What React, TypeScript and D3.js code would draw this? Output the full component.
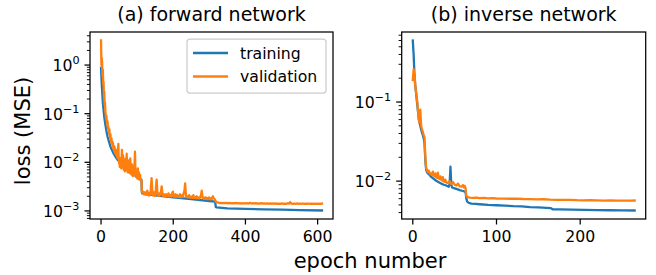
import React from "react";
import * as d3 from "d3";

type Pt = [number, number];

// ---------- (a) forward network ----------
const fwdTrain: Pt[] = [
  [0, 0.88], [1, 0.6], [2, 0.4], [3, 0.3], [4, 0.22], [5, 0.17], [6, 0.14], [7, 0.12], [8, 0.1], [9, 0.085],
  [10, 0.075], [12, 0.06], [14, 0.048], [16, 0.04], [18, 0.034], [20, 0.03], [23, 0.025], [26, 0.021], [30, 0.018],
  [35, 0.015], [40, 0.013], [45, 0.0115], [50, 0.0105], [55, 0.0095], [60, 0.0088], [65, 0.0082], [70, 0.0076],
  [75, 0.007], [80, 0.0066], [85, 0.0061], [90, 0.0057], [95, 0.0053], [100, 0.005], [105, 0.0047], [110, 0.0045],
  [112, 0.0044], [113, 0.0024], [114, 0.0023], [120, 0.00225], [150, 0.0021], [200, 0.0019], [250, 0.00175],
  [300, 0.0016], [316, 0.00155], [318, 0.0012], [320, 0.00118], [350, 0.00113], [400, 0.0011], [450, 0.00108],
  [500, 0.00106], [550, 0.00104], [612, 0.00102],
];

const fwdVal: Pt[] = [
  [0, 3.2], [1, 1.0], [2, 1.4], [3, 1.1], [4, 0.6], [5, 0.8], [6, 0.4], [7, 0.45], [8, 0.22], [9, 0.28],
  [10, 0.15], [11, 0.17], [12, 0.11], [13, 0.095], [14, 0.08], [15, 0.09], [16, 0.065], [17, 0.058], [18, 0.07],
  [19, 0.05], [20, 0.055], [21, 0.044], [22, 0.04], [23, 0.048], [24, 0.036], [25, 0.032], [26, 0.038], [27, 0.029],
  [28, 0.026], [29, 0.031], [30, 0.024], [31, 0.027], [32, 0.021], [33, 0.025], [34, 0.019], [35, 0.022], [36, 0.018],
  [37, 0.021], [38, 0.016], [39, 0.019], [40, 0.015], [41, 0.018], [42, 0.014], [43, 0.016], [44, 0.013], [45, 0.015],
  [46, 0.012], [47, 0.018], [48, 0.024], [49, 0.012], [50, 0.0095], [51, 0.011], [52, 0.008], [53, 0.012], [54, 0.0085],
  [55, 0.01], [56, 0.0075], [57, 0.013], [58, 0.018], [59, 0.01], [60, 0.008], [61, 0.014], [62, 0.009], [63, 0.007],
  [64, 0.011], [65, 0.008], [66, 0.0065], [67, 0.009], [68, 0.012], [69, 0.0075], [70, 0.0068], [71, 0.015],
  [72, 0.01], [73, 0.007], [74, 0.0062], [75, 0.009], [76, 0.0068], [77, 0.011], [78, 0.0065], [79, 0.006],
  [80, 0.0085], [81, 0.012], [82, 0.007], [83, 0.0058], [84, 0.0075], [85, 0.0055], [86, 0.009], [87, 0.0065],
  [88, 0.0052], [89, 0.007], [90, 0.0058], [91, 0.008], [92, 0.0055], [93, 0.0095], [94, 0.0165], [95, 0.008],
  [96, 0.0055], [97, 0.005], [98, 0.0068], [99, 0.0048], [100, 0.006], [101, 0.0046], [102, 0.0075], [103, 0.0052],
  [104, 0.0045], [105, 0.0062], [106, 0.0047], [107, 0.0044], [108, 0.0055], [109, 0.0046], [110, 0.0044],
  [111, 0.0043], [112, 0.0042], [113, 0.0026], [114, 0.0025], [115, 0.0023], [116, 0.0025], [117, 0.0023],
  [118, 0.0024], [119, 0.0022], [120, 0.0024], [121, 0.0022], [122, 0.0024], [123, 0.00225], [124, 0.0023],
  [125, 0.00215], [126, 0.0023], [127, 0.0022], [128, 0.0026], [129, 0.0023], [130, 0.0024], [131, 0.0021],
  [132, 0.0023], [133, 0.0022], [134, 0.00235], [135, 0.0021], [136, 0.0023], [137, 0.0022], [138, 0.0029],
  [140, 0.0047], [142, 0.0026], [143, 0.0021], [144, 0.0023], [145, 0.0021], [146, 0.0024], [147, 0.0021],
  [148, 0.0022], [149, 0.00205], [150, 0.0023], [152, 0.0028], [154, 0.0044], [156, 0.0025], [157, 0.0021],
  [158, 0.0023], [159, 0.00205], [160, 0.0022], [161, 0.00205], [162, 0.0023], [163, 0.0021], [164, 0.0022],
  [166, 0.0025], [168, 0.0032], [170, 0.0023], [171, 0.00205], [172, 0.0022], [174, 0.002], [175, 0.0022],
  [177, 0.00205], [178, 0.0021], [180, 0.002], [181, 0.0022], [183, 0.00205], [184, 0.0021], [186, 0.002],
  [187, 0.0023], [189, 0.002], [190, 0.00215], [192, 0.002], [193, 0.0021], [195, 0.00198], [196, 0.0022],
  [199, 0.0025], [201, 0.0021], [202, 0.00198], [204, 0.0021], [206, 0.00196], [207, 0.0022], [209, 0.00198],
  [210, 0.0021], [212, 0.00195], [213, 0.0021], [215, 0.00196], [216, 0.002], [218, 0.00194], [219, 0.0022],
  [221, 0.00193], [222, 0.002], [224, 0.00194], [225, 0.0021], [227, 0.00195], [228, 0.0022], [231, 0.0026],
  [233, 0.0037], [235, 0.0022], [236, 0.00193], [238, 0.002], [240, 0.0019], [241, 0.00198], [243, 0.0019],
  [244, 0.0021], [246, 0.00188], [247, 0.00198], [249, 0.00188], [250, 0.0019], [252, 0.00186], [253, 0.002],
  [255, 0.00186], [256, 0.0021], [258, 0.00185], [259, 0.0019], [261, 0.00184], [262, 0.00192], [264, 0.00183],
  [265, 0.002], [267, 0.00183], [268, 0.0019], [270, 0.00182], [271, 0.00188], [273, 0.00181], [274, 0.0019],
  [277, 0.0021], [279, 0.0026], [281, 0.0019], [283, 0.0018], [284, 0.00188], [286, 0.00178], [287, 0.00185],
  [289, 0.00178], [290, 0.0019], [292, 0.00177], [293, 0.00184], [295, 0.00176], [296, 0.00183], [298, 0.00176],
  [299, 0.0019], [301, 0.00175], [302, 0.00182], [304, 0.00174], [305, 0.00182], [307, 0.00176], [308, 0.0019],
  [310, 0.002], [312, 0.00182], [315, 0.00175], [317, 0.0016], [319, 0.00152], [322, 0.0015], [325, 0.00148],
  [329, 0.00145], [333, 0.00147], [337, 0.00144], [341, 0.00147], [345, 0.00144], [349, 0.00146], [353, 0.00143],
  [357, 0.00146], [361, 0.00143], [365, 0.00145], [369, 0.00143], [373, 0.00146], [377, 0.00143], [381, 0.00145],
  [385, 0.00142], [389, 0.00144], [393, 0.00142], [397, 0.00145], [401, 0.00142], [405, 0.00144], [409, 0.00142],
  [413, 0.00146], [417, 0.00142], [421, 0.00144], [425, 0.00141], [429, 0.00144], [433, 0.00141], [437, 0.00143],
  [441, 0.00141], [445, 0.00145], [449, 0.00141], [453, 0.00143], [457, 0.00141], [461, 0.00143], [465, 0.0014],
  [469, 0.00144], [473, 0.0014], [477, 0.00143], [481, 0.0014], [485, 0.00143], [489, 0.0014], [493, 0.00142],
  [497, 0.0014], [501, 0.00143], [505, 0.0014], [509, 0.00142], [513, 0.0014], [517, 0.00144], [521, 0.00141],
  [524, 0.00152], [527, 0.00142], [531, 0.0014], [535, 0.00142], [539, 0.00139], [543, 0.00143], [547, 0.00139],
  [551, 0.00142], [555, 0.00139], [559, 0.00142], [563, 0.00139], [567, 0.00141], [571, 0.00139], [575, 0.00142],
  [579, 0.00139], [583, 0.00141], [587, 0.00139], [591, 0.00141], [595, 0.00139], [599, 0.00141], [603, 0.00139],
  [606, 0.00141], [609, 0.00139], [612, 0.00142],
];

// ---------- (b) inverse network ----------
const invTrain: Pt[] = [
  [0, 0.6], [1, 0.4], [2, 0.22], [3, 0.16], [4, 0.13], [5, 0.1], [6, 0.08], [7, 0.065], [8, 0.055], [9, 0.05],
  [10, 0.045], [11, 0.041], [12, 0.038], [13, 0.035], [14, 0.03], [15, 0.018], [16, 0.014], [17, 0.013],
  [18, 0.0125], [20, 0.012], [22, 0.0113], [25, 0.0107], [28, 0.0101], [31, 0.0097], [34, 0.0093], [37, 0.009],
  [40, 0.0088], [43, 0.0085], [44, 0.0092], [45, 0.0152], [46, 0.009], [47, 0.0083], [50, 0.0081], [53, 0.0079],
  [56, 0.0077], [60, 0.0075], [63, 0.0073], [64, 0.006], [65, 0.0055], [67, 0.0053], [70, 0.0052], [75, 0.00515],
  [80, 0.0051], [90, 0.005], [100, 0.00495], [110, 0.0049], [120, 0.00482], [130, 0.00478], [140, 0.0047],
  [150, 0.00465], [160, 0.0046], [165, 0.00455], [167, 0.0044], [175, 0.00438], [190, 0.00435], [205, 0.00432],
  [220, 0.0043], [235, 0.00428], [250, 0.00427], [265, 0.00425],
];

const invVal: Pt[] = [
  [0, 0.19], [1, 0.26], [2, 0.22], [3, 0.16], [4, 0.13], [5, 0.11], [6, 0.085], [7, 0.06], [8, 0.055], [9, 0.08],
  [10, 0.05], [11, 0.045], [12, 0.042], [13, 0.038], [14, 0.036], [15, 0.02], [16, 0.0145], [17, 0.014],
  [18, 0.013], [19, 0.0135], [20, 0.0128], [21, 0.0122], [22, 0.0125], [23, 0.012], [24, 0.0132], [25, 0.0118],
  [26, 0.0115], [27, 0.0125], [28, 0.0112], [29, 0.011], [30, 0.0128], [31, 0.0108], [32, 0.0106], [33, 0.0115],
  [34, 0.0104], [35, 0.0102], [36, 0.0112], [37, 0.0099], [38, 0.0098], [39, 0.0104], [40, 0.0096], [42, 0.0095],
  [44, 0.01], [45, 0.0093], [46, 0.0092], [48, 0.0097], [50, 0.009], [52, 0.0088], [54, 0.0093], [56, 0.0086],
  [58, 0.0085], [60, 0.0089], [61, 0.0083], [62, 0.0087], [63, 0.0082], [64, 0.0065], [65, 0.0063], [68, 0.0062],
  [72, 0.00615], [76, 0.0062], [80, 0.0061], [85, 0.00612], [90, 0.00605], [95, 0.0061], [100, 0.00603],
  [108, 0.006], [116, 0.00598], [124, 0.006], [132, 0.00594], [140, 0.00592], [148, 0.00588], [156, 0.0059],
  [164, 0.00582], [172, 0.0058], [180, 0.00578], [188, 0.0058], [196, 0.00574], [204, 0.00572], [212, 0.00574],
  [220, 0.0057], [228, 0.00568], [236, 0.0057], [244, 0.00566], [252, 0.00568], [260, 0.00565], [265, 0.00568],
];

const fwdXTicks = [0, 200, 400, 600];
const invXTicks = [0, 100, 200];
const titles = ["(a) forward network", "(b) inverse network"];
const seriesLabels = ["training", "validation"];
const colors = ["#1f77b4", "#ff7f0e"];
const xLabel = "epoch number";
const yLabel = "loss (MSE)";

const FONT = "'DejaVu Sans', sans-serif";
const TICK_FS = 15.7;

function padLinear(vals: number[]): [number, number] {
  const [a, b] = d3.extent(vals) as [number, number];
  const p = (b - a) * 0.05;
  return [a - p, b + p];
}
function padLog(vals: number[]): [number, number] {
  const [a, b] = d3.extent(vals.map((v) => Math.log10(v))) as [number, number];
  const p = (b - a) * 0.05;
  return [Math.pow(10, a - p), Math.pow(10, b + p)];
}

function supText(v: number) {
  const e = Math.round(Math.log10(v));
  return e < 0 ? "\u2212" + Math.abs(e) : String(e);
}

interface PanelProps {
  x0: number;
  x1: number;
  y0: number;
  y1: number;
  train: Pt[];
  val: Pt[];
  xTicks: number[];
  title: string;
  legend: boolean;
  id: string;
}

function Panel({ x0, x1, y0, y1, train, val, xTicks, title, legend, id }: PanelProps) {
  const all = [...train, ...val];
  const x = d3.scaleLinear().domain(padLinear(all.map((d) => d[0]))).range([x0, x1]);
  const y = d3.scaleLog().domain(padLog(all.map((d) => d[1]))).range([y1, y0]);
  const line = d3
    .line<Pt>()
    .x((d) => x(d[0]))
    .y((d) => y(d[1]));

  const [dmin, dmax] = y.domain();
  const majors: number[] = [];
  const minors: number[] = [];
  for (let e = Math.floor(Math.log10(dmin)); e <= Math.ceil(Math.log10(dmax)); e++) {
    const base = Math.pow(10, e);
    if (base >= dmin && base <= dmax) majors.push(base);
    for (let m = 2; m <= 9; m++) {
      const v = m * base;
      if (v >= dmin && v <= dmax) minors.push(v);
    }
  }

  return (
    <g>
      <defs>
        <clipPath id={id}>
          <rect x={x0} y={y0} width={x1 - x0} height={y1 - y0} />
        </clipPath>
      </defs>
      <g clipPath={`url(#${id})`} fill="none" strokeWidth={2.3} strokeLinejoin="round" strokeLinecap="square">
        <path d={line(train) || ""} stroke={colors[0]} />
        <path d={line(val) || ""} stroke={colors[1]} />
      </g>
      {minors.map((v, i) => (
        <line key={"mn" + i} x1={x0} x2={x0 - 3.1} y1={y(v)} y2={y(v)} stroke="#000" strokeWidth={0.95} />
      ))}
      {majors.map((v, i) => (
        <g key={"mj" + i}>
          <line x1={x0} x2={x0 - 5.5} y1={y(v)} y2={y(v)} stroke="#000" strokeWidth={1.25} />
          <text x={x0 - 10.5} y={y(v) + 6} textAnchor="end" fontSize={TICK_FS} fontFamily={FONT} fill="#000">
            10
            <tspan dy={-6.8} fontSize={11.2}>
              {supText(v)}
            </tspan>
          </text>
        </g>
      ))}
      {xTicks.map((t) => (
        <g key={"xt" + t}>
          <line x1={x(t)} x2={x(t)} y1={y1} y2={y1 + 5.5} stroke="#000" strokeWidth={1.25} />
          <text x={x(t)} y={241.7} textAnchor="middle" fontSize={TICK_FS} fontFamily={FONT} fill="#000">
            {t}
          </text>
        </g>
      ))}
      <rect x={x0} y={y0} width={x1 - x0} height={y1 - y0} fill="none" stroke="#000" strokeWidth={1.25} />
      <text x={(x0 + x1) / 2} y={21} textAnchor="middle" fontSize={19} fontFamily={FONT} fill="#000">
        {title}
      </text>
      {legend && (
        <g>
          <rect x={187} y={39} width={139} height={54} rx={3} fill="#fff" fillOpacity={0.8} stroke="#cccccc" strokeWidth={1.25} />
          {seriesLabels.map((s, i) => (
            <g key={s}>
              <line x1={193} x2={228} y1={53 + i * 23.5} y2={53 + i * 23.5} stroke={colors[i]} strokeWidth={2.3} />
              <text x={240} y={58.5 + i * 23.5} fontSize={TICK_FS} fontFamily={FONT} fill="#000">
                {s}
              </text>
            </g>
          ))}
        </g>
      )}
    </g>
  );
}

export default function App() {
  return (
    <svg
      width={656}
      height={275}
      style={{ position: "absolute", left: 0, top: 0, background: "#fff" }}
      xmlns="http://www.w3.org/2000/svg"
    >
      <rect x={0} y={0} width={656} height={275} fill="#fff" />
      <Panel x0={90} x1={333} y0={32} y1={219} train={fwdTrain} val={fwdVal} xTicks={fwdXTicks} title={titles[0]} legend={true} id="clipA" />
      <Panel x0={401.7} x1={645.7} y0={32} y1={219} train={invTrain} val={invVal} xTicks={invXTicks} title={titles[1]} legend={false} id="clipB" />
      <text x={370} y={268} textAnchor="middle" fontSize={21} fontFamily={FONT} fill="#000">
        {xLabel}
      </text>
      <text
        transform="translate(30,131) rotate(-90)"
        textAnchor="middle"
        fontSize={21}
        fontFamily={FONT}
        fill="#000"
      >
        {yLabel}
      </text>
    </svg>
  );
}
